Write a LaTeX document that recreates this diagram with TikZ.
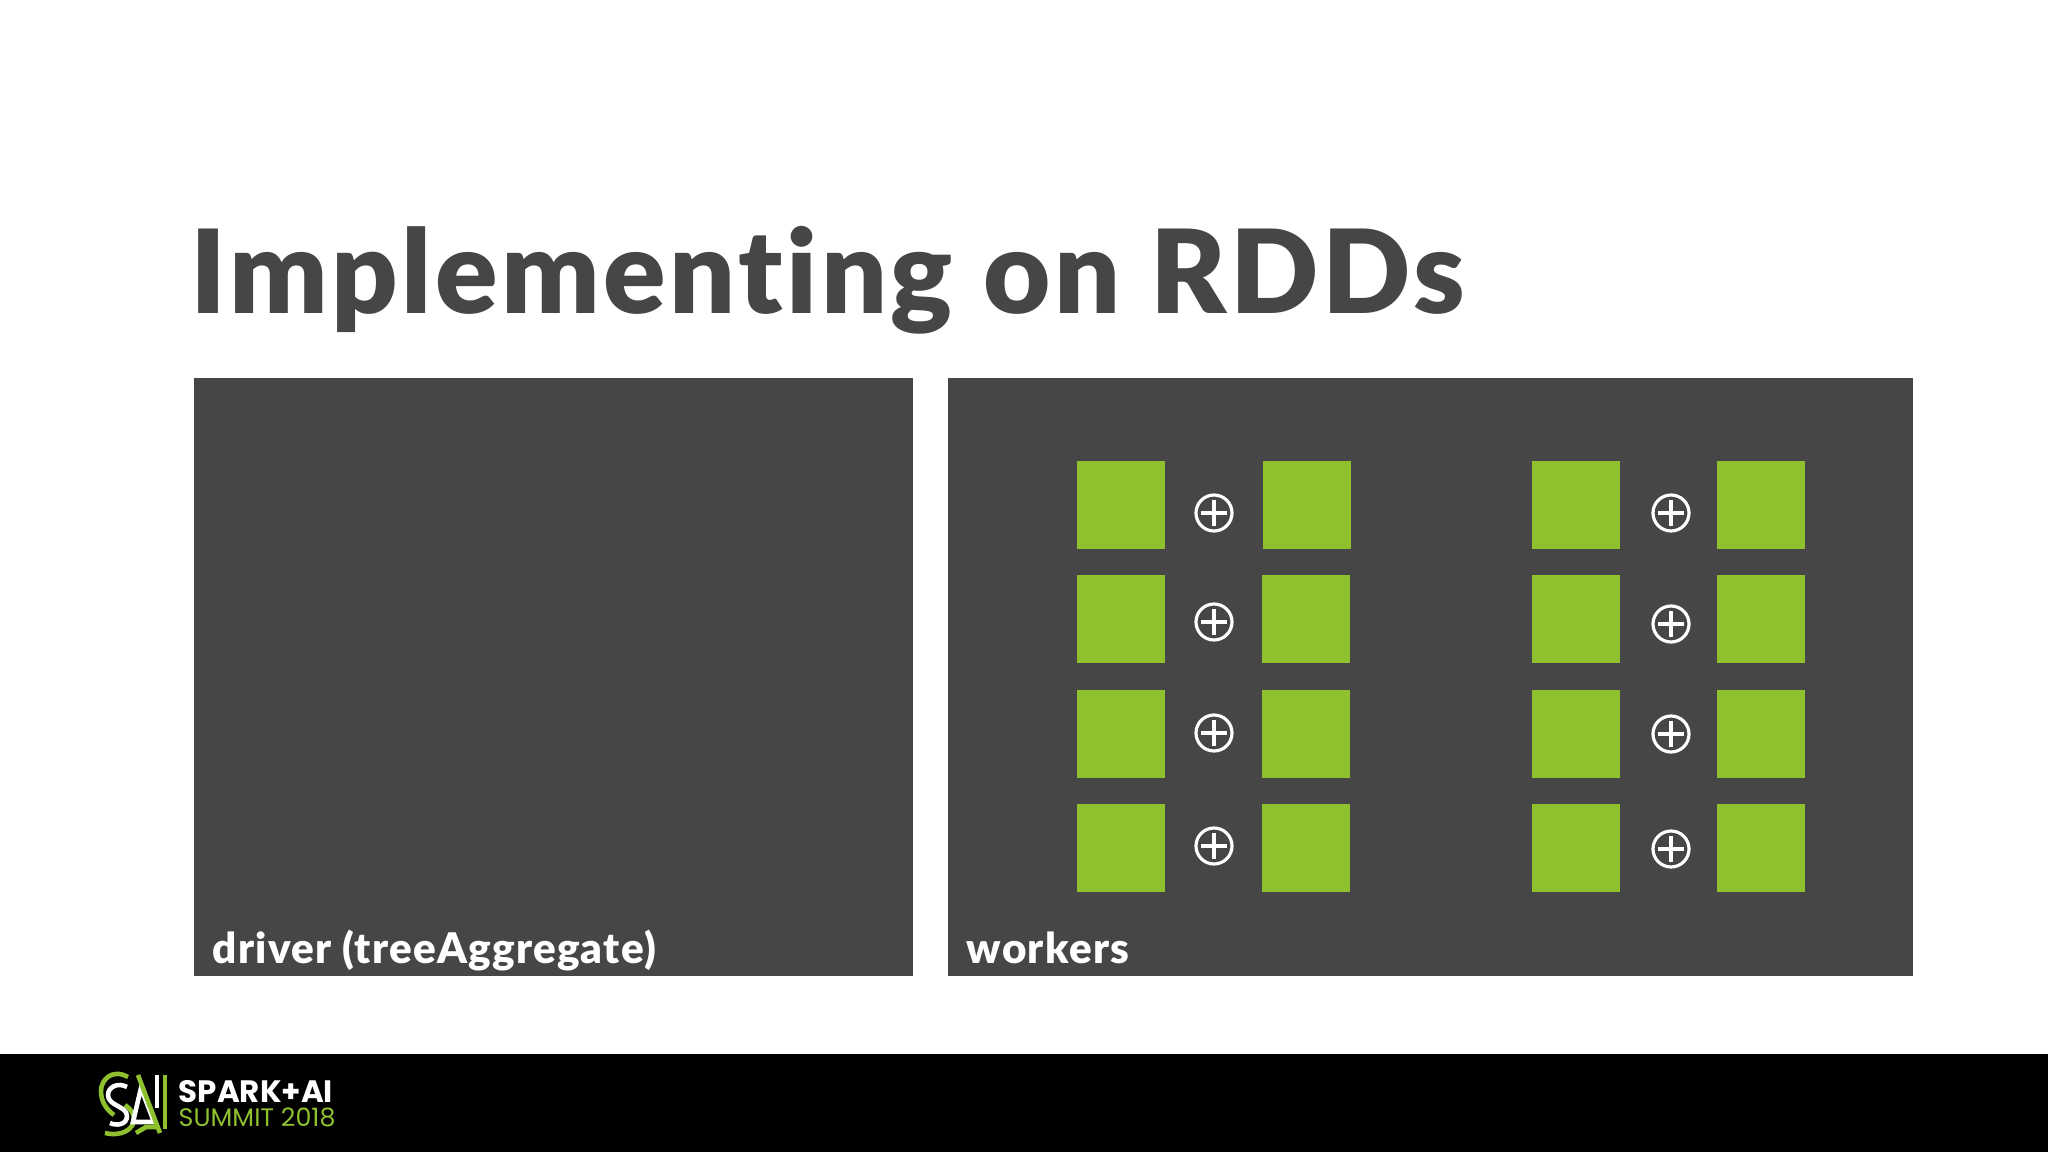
\documentclass[tikz,border=0pt]{standalone}
\usepackage{fontspec}
\setmainfont{Lato}
\newfontfamily\titlefont{Lato Black}[LetterSpace=3, Ligatures=NoCommon]
\newfontfamily\labelfont{Lato Black}[LetterSpace=3, Ligatures=NoCommon]
\newfontfamily\logofont{Poppins}
\usepackage{tikz}
\definecolor{panelgray}{HTML}{464646}
\definecolor{sparkgreen}{HTML}{8FC12F}
\tikzset{
  tile/.style={fill=sparkgreen, draw=none, minimum size=0.88cm, inner sep=0pt, outer sep=0pt},
  plusop/.style={circle, draw=white, line width=0.9pt, minimum size=0.36cm, inner sep=0pt,
    path picture={
      \draw[white, line width=0.9pt] (path picture bounding box.center) ++(-13,0) -- ++(26,0);
      \draw[white, line width=0.9pt] (path picture bounding box.center) ++(0,-13) -- ++(0,26);
    }},
  panel/.style={fill=panelgray, draw=none, inner sep=0pt, outer sep=0pt},
  panellabel/.style={anchor=base west, inner sep=0pt, text=white, font=\labelfont\fontsize{12}{14}\selectfont},
  logoline/.style={line width=1.3pt},
}
\begin{document}
\begin{tikzpicture}[x=0.01cm, y=-0.01cm]
    \useasboundingbox (0, 0) rectangle (2048, 1152);
    \fill[white] (0, 0) rectangle (2048, 1152);

    % title and the two panels
    \node[anchor=base west, inner sep=0pt, text=panelgray, font=\titlefont\fontsize{33}{40}\selectfont] (title) at (190, 314) {Implementing on RDDs};
    \node[panel, anchor=north west, minimum width=7.19cm, minimum height=5.98cm] (driver) at (194, 378) {};
    \node[panel, anchor=north west, minimum width=9.64cm, minimum height=5.98cm] (workers) at (948, 378) {};
    \node[panellabel] (driverlabel) at (212, 963) {driver (treeAggregate)};
    \node[panellabel] (workerslabel) at (966, 963) {workers};

    % tiles: x of the four columns, row number
    \foreach \xa/\xb/\xc/\xd/\n in {1077/1263/1532/1717/1, 1077/1262/1532/1717/2, 1077/1262/1532/1717/3, 1077/1262/1532/1717/4} {
        \pgfmathsetmacro{\ytop}{461 + (\n - 1)*114.4}
        \node[tile, anchor=north west] (tile\n a) at (\xa, \ytop) {};
        \node[tile, anchor=north west] (tile\n b) at (\xb, \ytop) {};
        \node[tile, anchor=north west] (tile\n c) at (\xc, \ytop) {};
        \node[tile, anchor=north west] (tile\n d) at (\xd, \ytop) {};
    }

    \foreach \n/\ya/\yb in {1/513/513, 2/622/624, 3/733/734, 4/846/849} {
        \node[plusop] (plusl\n) at (1214, \ya) {};
        \node[plusop] (plusr\n) at (1671, \yb) {};
    }

    % footer
    \fill[black] (0, 1054) rectangle (2048, 1152);

    % logo
    \draw[sparkgreen, logoline] (128, 1077) .. controls (112, 1068) and (101, 1080) .. (101, 1091) .. controls (101, 1102) and (107, 1110) .. (114, 1115);
    \draw[sparkgreen, logoline] (125, 1105) .. controls (131, 1109) and (134, 1114) .. (134, 1119) .. controls (134, 1129) and (122, 1137) .. (105, 1133);
    \draw[white, logoline] (127, 1087) .. controls (118, 1082) and (108, 1087) .. (108, 1095) .. controls (108, 1106) and (127, 1106) .. (127, 1116) .. controls (127, 1125) and (116, 1126) .. (110, 1123);
    \draw[white, logoline] (133, 1122) -- (141, 1088) -- (154, 1122) -- cycle;
    \draw[white, logoline] (157, 1075) -- (157, 1108);
    \draw[sparkgreen, logoline] (138, 1075) -- (160, 1133);
    \draw[sparkgreen, logoline] (165, 1075) -- (165, 1129);
    \draw[sparkgreen, logoline] (136, 1133) -- (146, 1127) -- (156, 1127);

    \node[anchor=base west, inner sep=0pt, text=white, font=\logofont\fontsize{8.8}{10}\selectfont\bfseries] (sparkai) at (178, 1102) {SPARK+AI};
    \node[anchor=base west, inner sep=0pt, text=sparkgreen, font=\logofont\fontsize{7.2}{10}\selectfont] (summit) at (178, 1126) {SUMMIT 2018};
\end{tikzpicture}
\end{document}
